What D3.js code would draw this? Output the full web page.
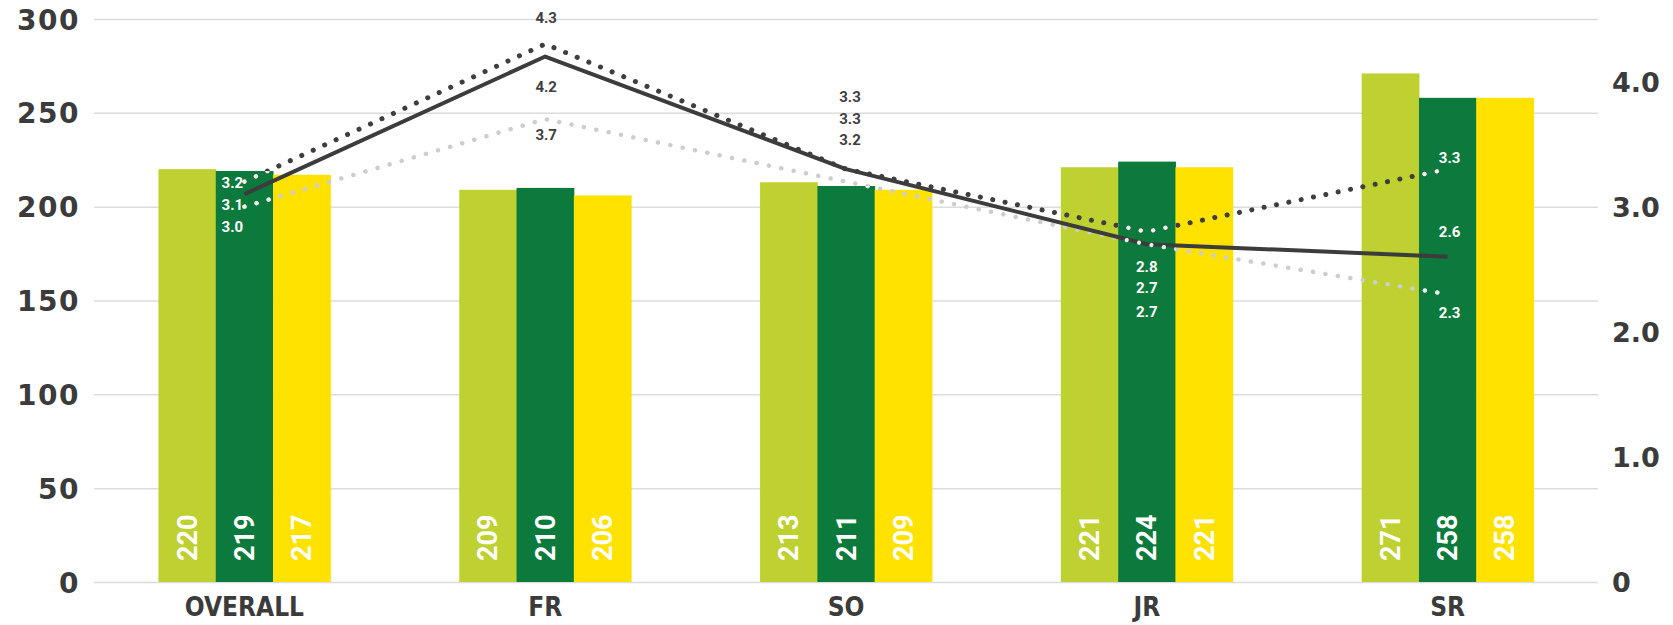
<!DOCTYPE html>
<html><head><meta charset="utf-8">
<script src="https://cdn.jsdelivr.net/npm/d3@7"></script>
<style>
body{margin:0;background:#fff;}
svg{display:block;}
</style></head><body>
<svg id="chart" width="1673" height="625"></svg>
<script>
// ---- data ----
const categories = ["OVERALL", "FR", "SO", "JR", "SR"];
const barSeries = ["s1", "s2", "s3"];
const bar1 = [220, 209, 213, 221, 271];
const bar2 = [219, 210, 211, 224, 258];
const bar3 = [217, 206, 209, 221, 258];
const lineDotDark = [3.2, 4.3, 3.3, 2.8, 3.3];
const lineSolid = [3.1, 4.2, 3.3, 2.7, 2.6];
const lineDotLight = [3.0, 3.7, 3.2, 2.7, 2.3];
const leftTicks = [0, 50, 100, 150, 200, 250, 300];
const rightTicks = [0, 1, 2, 3, 4];

// ---- layout / style ----
const W = 1673, H = 625;
const X0 = 94, X1 = 1598, Y0 = 582, Y1 = 19;
const barColors = ["#bed130", "#0b7a3c", "#ffe200"];
const axisFont = "'DejaVu Sans', sans-serif";
const catFont = "'Liberation Sans Narrow', 'DejaVu Sans Condensed', 'Roboto Condensed', Roboto, sans-serif";
const numFont = "Roboto, 'DejaVu Sans', sans-serif";
// label offsets (px from each point) per category: [dotDark, solid, dotLight]
const labelLayout = [
  {dx: -12, dy: [1, 10.5, 20], inside: true},
  {dx: 1, dy: [-26.5, 30, 15.5], inside: false},
  {dx: 4, dy: [-72.5, -50.5, -42], inside: false},
  {dx: 0, dy: [35, 43.5, 67.5], inside: true},
  {dx: 2, dy: [-11.5, -25, 18.5], inside: true}
];

const svg = d3.select("#chart");

const x = d3.scaleBand().domain(categories).range([X0, X1]).paddingInner(0.4286).paddingOuter(0.2143);
const xs = d3.scaleBand().domain(barSeries).range([0, x.bandwidth()]);
const yL = d3.scaleLinear().domain([0, 300]).range([Y0, Y1]);
const yR = d3.scaleLinear().domain([0, 4.5]).range([Y0, Y1]);

// left axis with gridlines
const gL = svg.append("g").attr("transform", `translate(${X0},0)`)
  .call(d3.axisLeft(yL).tickValues(leftTicks).tickSize(-(X1 - X0)).tickPadding(14).tickFormat(d3.format("d")));
gL.select(".domain").remove();
gL.selectAll(".tick line").attr("stroke", "#dcdcdc").attr("stroke-width", 1.5);
gL.selectAll(".tick text").attr("font-family", axisFont).attr("font-weight", "bold")
  .attr("font-size", 28).attr("fill", "#3b3b3b").attr("letter-spacing", 1.5).attr("dy", "0.36em");

// right axis
const gR = svg.append("g").attr("transform", `translate(${X1},0)`)
  .call(d3.axisRight(yR).tickValues(rightTicks).tickSize(0).tickPadding(14)
    .tickFormat(d => d === 0 ? "0" : d3.format(".1f")(d)));
gR.select(".domain").remove();
gR.selectAll(".tick text").attr("font-family", axisFont).attr("font-weight", "bold")
  .attr("font-size", 27).attr("fill", "#3b3b3b").attr("dy", "0.36em");

// bottom category axis
const gB = svg.append("g").attr("transform", `translate(0,${Y0})`)
  .call(d3.axisBottom(x).tickSize(0).tickPadding(0));
gB.select(".domain").remove();
gB.selectAll(".tick text").attr("font-family", catFont).attr("font-weight", "bold")
  .attr("font-size", 26).attr("fill", "#3b3b3b").attr("dy", null).attr("y", 34);

// bars
const barData = categories.map((c, i) => ({cat: c, vals: [bar1[i], bar2[i], bar3[i]]}));
const groups = svg.append("g").selectAll("g").data(barData).join("g")
  .attr("transform", d => `translate(${x(d.cat)},0)`);
groups.selectAll("rect").data(d => d.vals.map((v, j) => ({s: barSeries[j], v, j}))).join("rect")
  .attr("x", d => xs(d.s)).attr("width", xs.bandwidth() + 0.5)
  .attr("y", d => yL(d.v)).attr("height", d => Y0 - yL(d.v))
  .attr("fill", d => barColors[d.j]);
groups.selectAll("text").data(d => d.vals.map((v, j) => ({s: barSeries[j], v, j}))).join("text")
  .attr("transform", d => `translate(${xs(d.s) + xs.bandwidth() / 2 + 9.5},${Y0 - 21}) rotate(-90)`)
  .attr("font-family", numFont).attr("font-weight", "bold").attr("font-size", 27)
  .attr("fill", "#ffffff").attr("text-anchor", "start")
  .text(d => d.v);

// clip for dark bars (dotted lines appear white over them)
const clip = svg.append("defs").append("clipPath").attr("id", "darkBars");
clip.selectAll("rect").data(barData).join("rect")
  .attr("x", d => x(d.cat) + xs("s2")).attr("width", xs.bandwidth())
  .attr("y", d => yL(d.vals[1])).attr("height", d => Y0 - yL(d.vals[1]));

// lines
const cx = c => x(c) + x.bandwidth() / 2;
const lineGen = d3.line().x((d, i) => cx(categories[i])).y(d => yR(d));
const lines = [
  {vals: lineDotLight, color: "#cdcdcd", dash: "0.1 12.5", w: 4.5, cap: "round"},
  {vals: lineDotDark, color: "#3e3e3e", dash: "0.1 12.5", w: 5, cap: "round"},
  {vals: lineSolid, color: "#3c3c3c", dash: null, w: 4, cap: "butt"}
];
lines.forEach(l => {
  svg.append("path").attr("d", lineGen(l.vals)).attr("fill", "none")
    .attr("stroke", l.color).attr("stroke-width", l.w)
    .attr("stroke-dasharray", l.dash).attr("stroke-linecap", l.cap).attr("stroke-linejoin", "round");
});
lines.slice(0, 2).forEach(l => {
  svg.append("path").attr("d", lineGen(l.vals)).attr("fill", "none").attr("clip-path", "url(#darkBars)")
    .attr("stroke", "#e8f3ec").attr("stroke-width", l.w - 0.5)
    .attr("stroke-dasharray", l.dash).attr("stroke-linecap", l.cap);
});

// line labels
const lineSets = [lineDotDark, lineSolid, lineDotLight];
const labelData = [];
categories.forEach((c, i) => {
  lineSets.forEach((ls, k) => {
    labelData.push({c, v: ls[i], dx: labelLayout[i].dx, dy: labelLayout[i].dy[k], inside: labelLayout[i].inside});
  });
});
svg.append("g").selectAll("text").data(labelData).join("text")
  .attr("x", d => cx(d.c) + d.dx).attr("y", d => yR(d.v) + d.dy)
  .attr("dy", "0.36em").attr("text-anchor", "middle")
  .attr("font-family", numFont).attr("font-weight", "bold").attr("font-size", 15)
  .attr("fill", d => d.inside ? "#ffffff" : "#404040")
  .text(d => d3.format(".1f")(d.v));
</script>
</body></html>
